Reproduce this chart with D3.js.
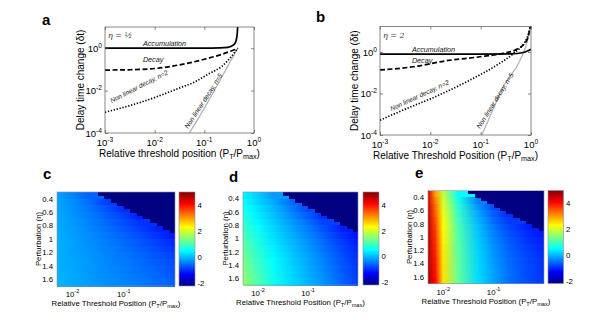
<!DOCTYPE html>
<html>
<head>
<meta charset="utf-8">
<script src="https://cdn.jsdelivr.net/npm/d3@7"></script>
<style>
  body { margin: 0; background: #fff; }
  svg { display: block; font-family: Arial, "Liberation Sans", Helvetica, sans-serif; }
</style>
</head>
<body>
<svg width="600" height="320"></svg>
<script>
// ---------- values ----------
const lineXTicks = [1e-3, 1e-2, 1e-1, 1];
const lineYTicks = [1e-4, 1e-2, 1];

// panel a (eta = 1/2): [threshold position, delay time change]
const accumulationA = [[0.001, 1.0], [0.01, 1.0], [0.1, 1.0], [0.2, 1.03], [0.3, 1.1], [0.4, 1.5], [0.44, 2.5], [0.46, 5], [0.47, 12]];
const decayA = [[0.001, 0.093], [0.003, 0.096], [0.01, 0.11], [0.03, 0.16], [0.1, 0.3], [0.2, 0.47], [0.3, 0.65], [0.4, 0.84], [0.47, 1.0]];
const nonlin2A = [[0.001, 0.00095], [0.003, 0.0019], [0.01, 0.0047], [0.03, 0.0127], [0.065, 0.026], [0.12, 0.06], [0.22, 0.135], [0.35, 0.4], [0.47, 1.0]];
const nonlin5A = [[0.05, 0.0001], [0.1, 0.0015], [0.2, 0.026], [0.3, 0.15], [0.4, 0.5], [0.47, 1.0]];

// panel b (eta = 2)
const accumulationB = [[0.001, 0.8], [0.1, 0.8], [0.4, 0.82], [0.7, 0.95], [0.85, 1.12], [1.0, 1.35]];
const decayB = [[0.001, 0.136], [0.0046, 0.195], [0.021, 0.38], [0.097, 0.59], [0.28, 0.865], [0.52, 1.35], [0.83, 3.8], [0.985, 20]];
const nonlin2B = [[0.001, 0.00052], [0.0029, 0.0016], [0.0135, 0.0076], [0.062, 0.045], [0.21, 0.236], [0.45, 0.865], [0.83, 4.6], [0.985, 20]];
const nonlin5B = [[0.105, 0.0001], [0.15, 0.0007], [0.28, 0.021], [0.61, 0.41], [0.85, 3.5], [0.985, 20]];

// heat maps: columns = threshold position, rows = perturbation eta
const thresholdCols = [0.005, 0.007, 0.01, 0.02, 0.05, 0.1, 0.2, 0.5, 1];
const perturbRows = [0.35, 0.45, 0.55, 0.65, 0.75, 0.85, 0.95, 1.05, 1.15, 1.25, 1.35, 1.45, 1.55, 1.65];

const valuesC = [
  [-0.15, -0.25, -0.35, -0.6],
  [-0.14, -0.22, -0.3, -0.5, -0.9],
  [-0.12, -0.2, -0.27, -0.45, -0.75, -1.0],
  [-0.1, -0.18, -0.25, -0.4, -0.65, -0.85, -1.1],
  [-0.1, -0.16, -0.22, -0.37, -0.58, -0.75, -0.95],
  [-0.08, -0.14, -0.2, -0.33, -0.52, -0.67, -0.85, -1.1],
  [-0.07, -0.13, -0.18, -0.3, -0.47, -0.6, -0.75, -0.98, -1.15],
  [-0.06, -0.11, -0.16, -0.28, -0.43, -0.55, -0.68, -0.88, -1.02],
  [-0.05, -0.1, -0.15, -0.26, -0.4, -0.5, -0.62, -0.8, -0.93],
  [-0.05, -0.1, -0.14, -0.24, -0.37, -0.47, -0.57, -0.73, -0.85],
  [-0.04, -0.09, -0.13, -0.22, -0.35, -0.44, -0.53, -0.68, -0.78],
  [-0.04, -0.08, -0.12, -0.21, -0.33, -0.41, -0.5, -0.63, -0.73],
  [-0.03, -0.07, -0.11, -0.2, -0.31, -0.39, -0.47, -0.59, -0.68],
  [-0.03, -0.06, -0.1, -0.19, -0.3, -0.37, -0.44, -0.55, -0.64]
];
const valuesD = [
  [0.45, 0.3, 0.15, -0.2],
  [0.55, 0.38, 0.22, -0.1, -0.6],
  [0.65, 0.47, 0.3, 0.0, -0.45, -0.8],
  [0.75, 0.56, 0.38, 0.08, -0.33, -0.65, -1.0],
  [0.85, 0.65, 0.46, 0.15, -0.23, -0.52, -0.85],
  [0.95, 0.74, 0.54, 0.22, -0.15, -0.42, -0.72, -1.1],
  [1.05, 0.83, 0.62, 0.28, -0.08, -0.34, -0.62, -0.98, -1.2],
  [1.15, 0.92, 0.7, 0.34, -0.02, -0.27, -0.54, -0.9, -1.12],
  [1.23, 0.99, 0.77, 0.4, 0.04, -0.21, -0.48, -0.83, -1.05],
  [1.31, 1.06, 0.83, 0.45, 0.09, -0.16, -0.42, -0.77, -1.0],
  [1.39, 1.13, 0.89, 0.5, 0.13, -0.12, -0.37, -0.72, -0.96],
  [1.46, 1.19, 0.95, 0.54, 0.17, -0.08, -0.33, -0.68, -0.92],
  [1.52, 1.25, 1.0, 0.58, 0.2, -0.05, -0.3, -0.65, -0.89],
  [1.58, 1.3, 1.05, 0.62, 0.23, -0.02, -0.27, -0.62, -0.86]
];
const valuesE = [
  [4.4, 3.0, 1.9, 0.5],
  [4.45, 3.2, 2.0, 0.65, -0.4],
  [4.5, 3.35, 2.1, 0.78, -0.25, -0.8],
  [4.5, 3.45, 2.2, 0.88, -0.12, -0.65, -1.0],
  [4.55, 3.55, 2.25, 0.96, -0.03, -0.55, -0.9],
  [4.55, 3.65, 2.3, 1.02, 0.04, -0.46, -0.8, -1.1],
  [4.6, 3.7, 2.35, 1.07, 0.09, -0.39, -0.72, -1.02, -1.15],
  [4.6, 3.75, 2.38, 1.1, 0.13, -0.33, -0.66, -0.96, -1.08],
  [4.6, 3.8, 2.41, 1.13, 0.16, -0.28, -0.61, -0.9, -1.03],
  [4.65, 3.85, 2.44, 1.15, 0.19, -0.24, -0.57, -0.86, -0.99],
  [4.65, 3.9, 2.46, 1.17, 0.21, -0.21, -0.54, -0.83, -0.96],
  [4.7, 3.95, 2.48, 1.18, 0.23, -0.18, -0.52, -0.8, -0.94],
  [4.7, 4.0, 2.49, 1.19, 0.24, -0.16, -0.5, -0.79, -0.93],
  [4.7, 4.05, 2.5, 1.2, 0.25, -0.15, -0.5, -0.78, -0.92]
];

// saturated (dark) corner: eta at top of each step and threshold where it starts
const darkRowTops = [0.30, 0.35, 0.40, 0.45, 0.50, 0.55, 0.60, 0.65, 0.70, 0.75, 0.80, 0.85];
const darkRowStarts = [0.031, 0.042, 0.056, 0.075, 0.10, 0.135, 0.18, 0.24, 0.33, 0.44, 0.59, 0.8];

const etaTicks = [0.4, 0.6, 0.8, 1, 1.2, 1.4, 1.6];
const heatXTicks = [1e-2, 1e-1];
const colorbarTicks = [-2, 0, 2, 4];

// ---------- drawing ----------
const svg = d3.select('svg');
const defs = svg.append('defs');

const colorRange = [-2.2, 5];
const jetT = [0, 1 / 8, 3 / 8, 5 / 8, 7 / 8, 1];
const jetColors = ['#000080', '#0000ff', '#00ffff', '#ffff00', '#ff0000', '#800000'];
const jet = d3.scaleLinear()
  .domain(jetT.map(t => colorRange[0] + t * (colorRange[1] - colorRange[0])))
  .range(jetColors)
  .clamp(true);

const supLabel = (sel, exp) => {
  sel.text('10');
  sel.append('tspan').attr('dy', -4).attr('font-size', '70%').text(exp);
};

const thresholdLabel = (sel, prefix) => {
  sel.append('tspan').text(prefix + ' (P');
  sel.append('tspan').attr('dy', 2).attr('font-size', '72%').text('T');
  sel.append('tspan').attr('dy', -2).text('/P');
  sel.append('tspan').attr('dy', 2).attr('font-size', '72%').text('max');
  sel.append('tspan').attr('dy', -2).text(')');
};

const panelLetter = (letter, x, y) => svg.append('text')
  .attr('x', x).attr('y', y)
  .attr('font-size', 15).attr('font-weight', 'bold')
  .text(letter);

const seriesStyle = {
  accumulation: { stroke: '#000', width: 1.7, dash: null },
  decay: { stroke: '#000', width: 1.7, dash: '5,2.5' },
  nonlin2: { stroke: '#000', width: 1.7, dash: '1.3,1.7' },
  nonlin5: { stroke: '#b4b4b4', width: 1.3, dash: null }
};

function linePanel(cfg) {
  const x = d3.scaleLog().domain([1e-3, 1]).range([cfg.left, cfg.right]);
  const y = d3.scaleLog().domain([1e-4, cfg.yMax]).range([cfg.bottom, cfg.top]);
  const g = svg.append('g');

  const clipId = 'clip-' + cfg.letter;
  defs.append('clipPath').attr('id', clipId)
    .append('rect')
    .attr('x', cfg.left).attr('y', cfg.top)
    .attr('width', cfg.right - cfg.left).attr('height', cfg.bottom - cfg.top);

  const line = d3.line()
    .x(d => x(d[0]))
    .y(d => y(d[1]))
    .curve(d3.curveMonotoneX);

  const plot = g.append('g').attr('clip-path', `url(#${clipId})`);
  cfg.series.forEach(s => {
    const st = seriesStyle[s.kind];
    plot.append('path')
      .attr('d', line(s.data))
      .attr('fill', 'none')
      .attr('stroke', st.stroke)
      .attr('stroke-width', st.width)
      .attr('stroke-dasharray', st.dash);
  });

  // box + inward ticks (MATLAB style)
  g.append('rect')
    .attr('x', cfg.left).attr('y', cfg.top)
    .attr('width', cfg.right - cfg.left).attr('height', cfg.bottom - cfg.top)
    .attr('fill', 'none').attr('stroke', '#555').attr('stroke-width', 0.7);

  const tickAxis = (axis, tx, ty) => g.append('g')
    .attr('transform', `translate(${tx},${ty})`)
    .call(axis)
    .call(a => a.select('.domain').remove())
    .call(a => a.selectAll('.tick line').attr('stroke', '#555').attr('stroke-width', 0.7))
    .call(a => a.selectAll('.tick text').remove());

  tickAxis(d3.axisBottom(x).tickValues(lineXTicks).tickSize(-3), 0, cfg.bottom);
  tickAxis(d3.axisTop(x).tickValues(lineXTicks).tickSize(-3), 0, cfg.top);
  tickAxis(d3.axisLeft(y).tickValues(lineYTicks).tickSize(-3), cfg.left, 0);
  tickAxis(d3.axisRight(y).tickValues(lineYTicks).tickSize(-3), cfg.right, 0);

  g.selectAll('.xlab').data(lineXTicks).enter().append('text')
    .attr('x', d => x(d)).attr('y', cfg.bottom + 12.5)
    .attr('text-anchor', 'middle').attr('font-size', 9.5)
    .each(function (d) { supLabel(d3.select(this), String(Math.round(Math.log10(d)))); });

  g.selectAll('.ylab').data(lineYTicks).enter().append('text')
    .attr('x', cfg.left - 3).attr('y', d => y(d) + 3.5)
    .attr('text-anchor', 'end').attr('font-size', 9.5)
    .each(function (d) { supLabel(d3.select(this), String(Math.round(Math.log10(d)))); });

  thresholdLabel(
    g.append('text')
      .attr('x', (cfg.left + cfg.right) / 2).attr('y', cfg.bottom + 23.5)
      .attr('text-anchor', 'middle').attr('font-size', 10),
    cfg.xTitle);

  g.append('text')
    .attr('transform', `translate(${cfg.yTitleX},${(cfg.top + cfg.bottom) / 2}) rotate(-90)`)
    .attr('text-anchor', 'middle').attr('font-size', 10)
    .text('Delay time change (δt)');

  g.append('text')
    .attr('x', cfg.left + 3).attr('y', cfg.top + 11)
    .attr('font-family', '"DejaVu Serif", "Liberation Serif", serif')
    .attr('font-style', 'italic').attr('font-size', 8).attr('fill', '#333')
    .text(cfg.etaText);

  cfg.notes.forEach(n => {
    g.append('text')
      .attr('transform', `translate(${x(n.at[0])},${y(n.at[1])}) rotate(${n.angle})`)
      .attr('font-style', 'italic')
      .attr('font-size', n.angle ? 6.6 : 7.2)
      .attr('fill', '#111')
      .text(n.text);
  });

  panelLetter(cfg.letter, cfg.letterX, cfg.letterY);
}

linePanel({
  letter: 'a', letterX: 42, letterY: 25,
  left: 105, right: 254, top: 27, bottom: 133, yMax: 10,
  yTitleX: 83.5,
  xTitle: 'Relative threshold position',
  etaText: 'η = ½',
  series: [
    { kind: 'nonlin5', data: nonlin5A },
    { kind: 'accumulation', data: accumulationA },
    { kind: 'decay', data: decayA },
    { kind: 'nonlin2', data: nonlin2A }
  ],
  notes: [
    { text: 'Accumulation', at: [0.0058, 1.27], angle: 0 },
    { text: 'Decay', at: [0.0058, 0.22], angle: 0 },
    { text: 'Non linear decay, n=2', at: [0.00136, 0.0026], angle: -27 },
    { text: 'Non linear decay, n=5', at: [0.047, 0.000155], angle: -57 }
  ]
});

linePanel({
  letter: 'b', letterX: 316, letterY: 22,
  left: 380, right: 531, top: 26.5, bottom: 135, yMax: 17,
  yTitleX: 357.5,
  xTitle: 'Relative Threshold Position',
  etaText: 'η = 2',
  series: [
    { kind: 'nonlin5', data: nonlin5B },
    { kind: 'accumulation', data: accumulationB },
    { kind: 'decay', data: decayB },
    { kind: 'nonlin2', data: nonlin2B }
  ],
  notes: [
    { text: 'Accumulation', at: [0.0043, 1.0], angle: 0 },
    { text: 'Decay', at: [0.0043, 0.29], angle: 0 },
    { text: 'Non linear decay, n=2', at: [0.0017, 0.00144], angle: -25 },
    { text: 'Non linear decay, n=5', at: [0.097, 0.000194], angle: -58 }
  ]
});

function heatPanel(cfg) {
  const x = d3.scaleLog().domain([0.005, 1]).range([cfg.left, cfg.right]);
  const y = d3.scaleLinear().domain([0.3, 1.7]).range([cfg.top, cfg.bottom]);
  const cb = d3.scaleLinear().domain(colorRange).range([cfg.bottom, cfg.top]);
  const g = svg.append('g');
  const half = (perturbRows[1] - perturbRows[0]) / 2;
  const w = cfg.right - cfg.left;

  perturbRows.forEach((eta, i) => {
    const id = `row-${cfg.letter}-${i}`;
    const grad = defs.append('linearGradient').attr('id', id)
      .attr('gradientUnits', 'userSpaceOnUse')
      .attr('x1', cfg.left).attr('x2', cfg.right).attr('y1', 0).attr('y2', 0);
    cfg.values[i].forEach((v, j) => {
      grad.append('stop')
        .attr('offset', (x(thresholdCols[j]) - cfg.left) / w)
        .attr('stop-color', jet(v));
    });
    g.append('rect')
      .attr('x', cfg.left).attr('y', y(eta - half))
      .attr('width', w).attr('height', y(eta + half) - y(eta - half) + 0.6)
      .attr('shape-rendering', 'crispEdges')
      .attr('fill', `url(#${id})`);
  });

  g.selectAll('.dark').data(darkRowTops).enter().append('rect')
    .attr('x', (d, i) => x(darkRowStarts[i]))
    .attr('y', d => y(d))
    .attr('width', (d, i) => cfg.right - x(darkRowStarts[i]))
    .attr('height', d => y(d + 0.05) - y(d) + 0.6)
    .attr('shape-rendering', 'crispEdges')
    .attr('fill', jet(colorRange[0]));

  g.append('rect')
    .attr('x', cfg.left).attr('y', cfg.top)
    .attr('width', w).attr('height', cfg.bottom - cfg.top)
    .attr('fill', 'none').attr('stroke', '#8a8fa0').attr('stroke-width', 0.6);

  // colour bar
  const cid = 'cbar-' + cfg.letter;
  const cgrad = defs.append('linearGradient').attr('id', cid)
    .attr('x1', 0).attr('x2', 0).attr('y1', 1).attr('y2', 0);
  jetT.forEach((t, k) => cgrad.append('stop').attr('offset', t).attr('stop-color', jetColors[k]));
  g.append('rect')
    .attr('x', cfg.cbLeft).attr('y', cfg.top)
    .attr('width', cfg.cbWidth).attr('height', cfg.bottom - cfg.top)
    .attr('fill', `url(#${cid})`)
    .attr('stroke', '#8a8fa0').attr('stroke-width', 0.6);

  g.selectAll('.cbl').data(colorbarTicks).enter().append('text')
    .attr('x', cfg.cbLeft + cfg.cbWidth + 2.5).attr('y', d => cb(d) + 2.8)
    .attr('font-size', 7.8)
    .text(d => String(d));

  g.selectAll('.etal').data(etaTicks).enter().append('text')
    .attr('x', cfg.left - 4).attr('y', d => y(d) + 2.8)
    .attr('text-anchor', 'end').attr('font-size', 7.8)
    .text(d => String(d));

  g.selectAll('.hxl').data(heatXTicks).enter().append('text')
    .attr('x', x).attr('y', cfg.bottom + 11)
    .attr('text-anchor', 'middle').attr('font-size', 7.8)
    .each(function (d) { supLabel(d3.select(this), String(Math.round(Math.log10(d)))); });

  thresholdLabel(
    g.append('text')
      .attr('x', (cfg.left + cfg.right) / 2).attr('y', cfg.bottom + 20)
      .attr('text-anchor', 'middle').attr('font-size', 7.8),
    'Relative Threshold Position');

  g.append('text')
    .attr('transform', `translate(${cfg.yTitleX},${(cfg.top + cfg.bottom) / 2}) rotate(-90)`)
    .attr('text-anchor', 'middle').attr('font-size', 7.8)
    .text('Perturbation (η)');

  panelLetter(cfg.letter, cfg.letterX, cfg.letterY);
}

heatPanel({ letter: 'c', letterX: 43, letterY: 179, left: 57, right: 175, top: 192, bottom: 286,
  cbLeft: 179, cbWidth: 16, yTitleX: 41, values: valuesC });
heatPanel({ letter: 'd', letterX: 229, letterY: 182, left: 243, right: 358, top: 192, bottom: 285,
  cbLeft: 363, cbWidth: 16, yTitleX: 227.5, values: valuesD });
heatPanel({ letter: 'e', letterX: 415, letterY: 178, left: 428, right: 544, top: 190.5, bottom: 283.5,
  cbLeft: 548, cbWidth: 15.5, yTitleX: 412, values: valuesE });
</script>
</body>
</html>
